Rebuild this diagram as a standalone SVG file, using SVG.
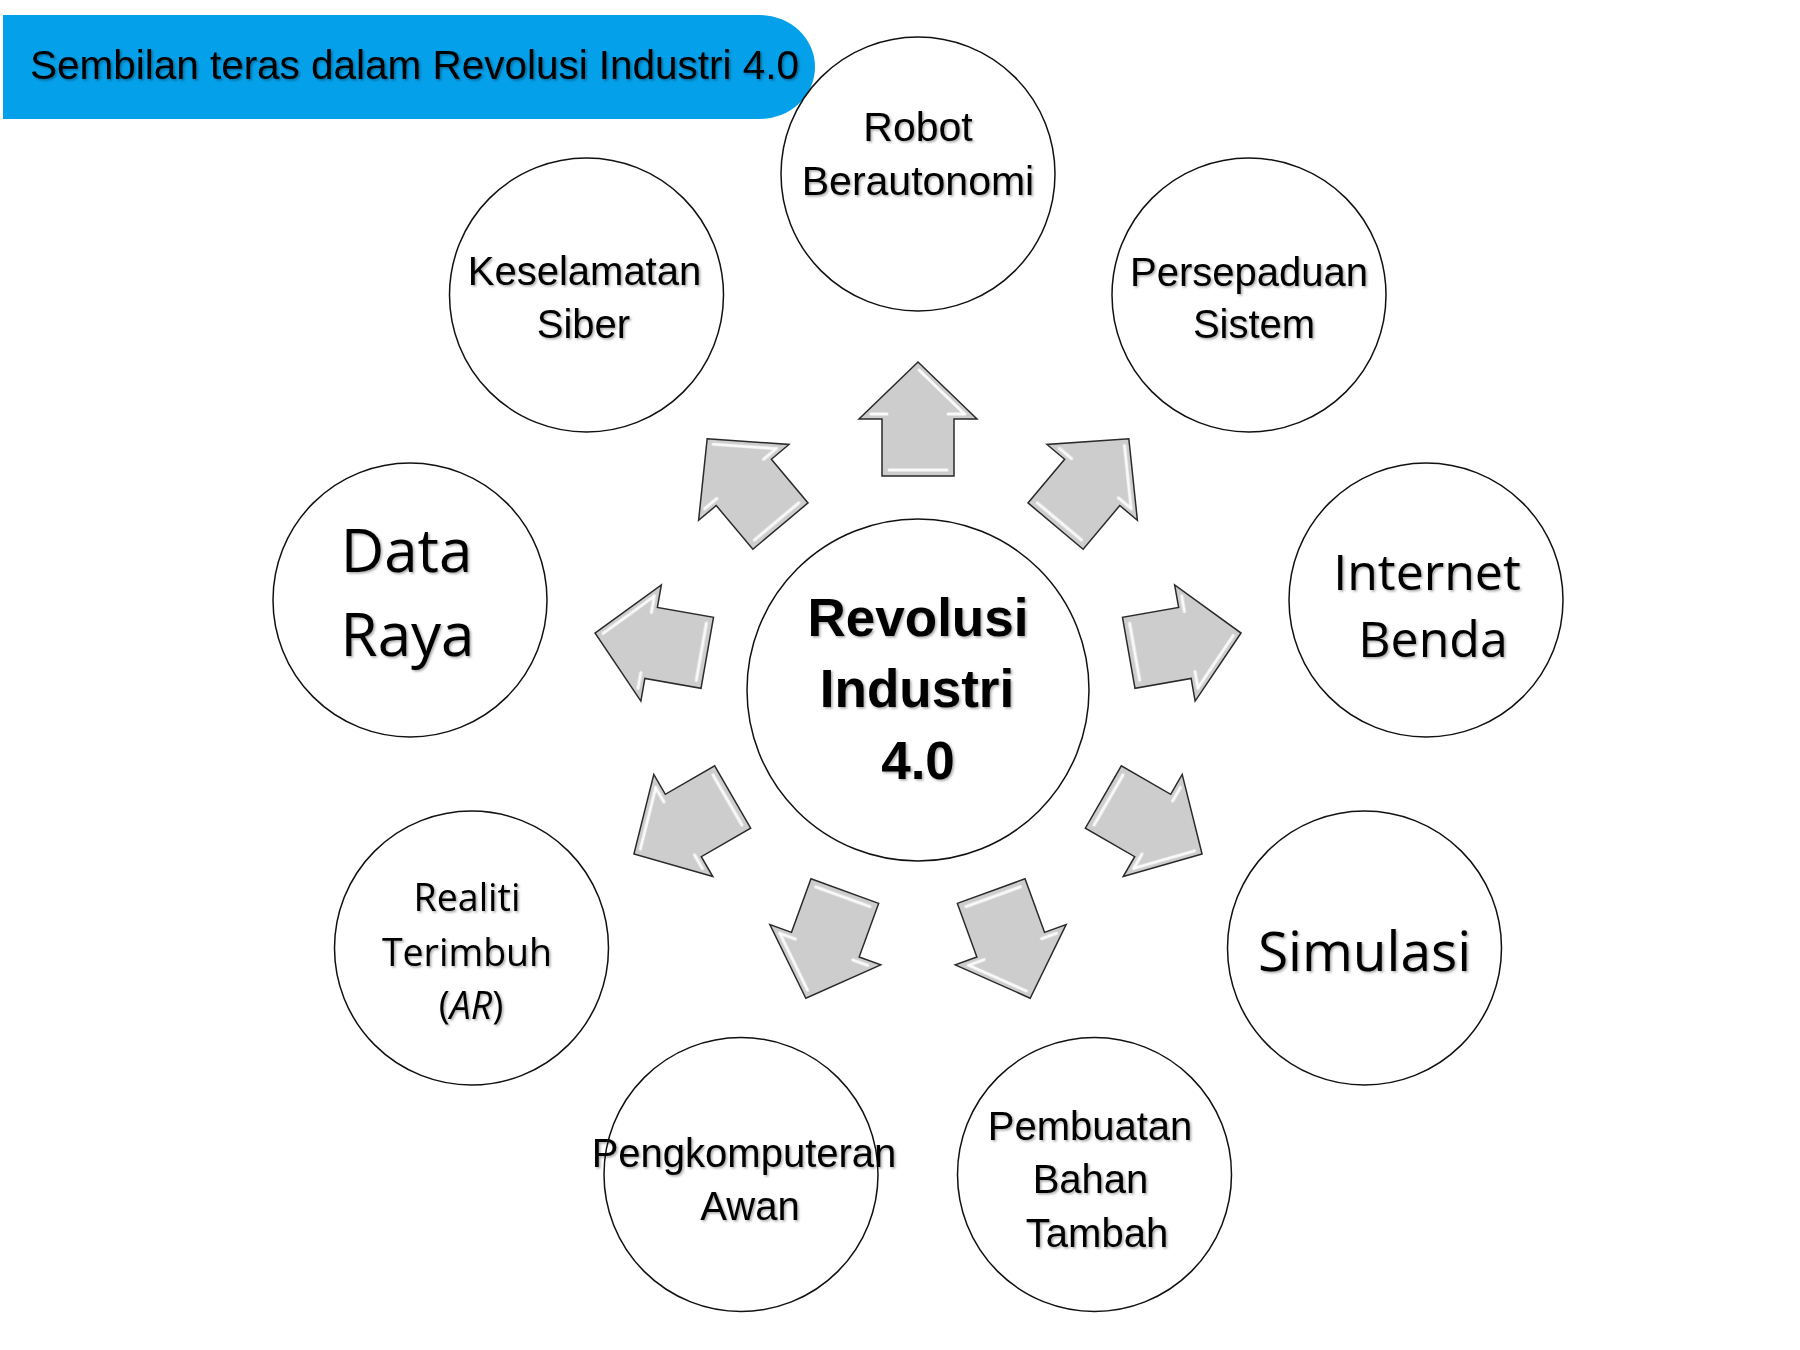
<svg xmlns="http://www.w3.org/2000/svg" xmlns:xlink="http://www.w3.org/1999/xlink" width="1800" height="1350" viewBox="0 0 1800 1350">
<style>
.node{fill:#ffffff;stroke:#111111;stroke-width:1.5}
.t{font-family:"Liberation Sans",Arial,sans-serif;font-size:40px;fill:#000;text-anchor:middle}
.w{font-family:"Open Sans","DejaVu Sans",sans-serif;fill:#000;text-anchor:middle}
.b{font-family:"Liberation Sans",Arial,sans-serif;font-size:53px;font-weight:bold;fill:#000;text-anchor:middle}
.arrow{fill:#cdcdcd;stroke:#2a2a2a;stroke-width:1.5;stroke-linejoin:miter}
.hl{fill:none;stroke:#ffffff;stroke-width:3;stroke-linecap:round;opacity:0.9}
</style>
<defs>
<filter id="sh" x="-10%" y="-10%" width="120%" height="130%">
<feDropShadow dx="1.5" dy="1.5" stdDeviation="1" flood-color="#000" flood-opacity="0.35"/>
</filter>
<filter id="soft" x="-10%" y="-10%" width="120%" height="120%">
<feGaussianBlur stdDeviation="0.6"/>
</filter>
<g id="arrow">
<path class="arrow" d="M0,-328 L59,-271 L36,-271 L36,-214 L-36,-214 L-36,-271 L-59,-271 Z"/>
<g filter="url(#soft)">
<path class="hl" d="M1,-320 L46,-276.5"/>
<path class="hl" d="M-47,-276 L-31,-276"/>
<path class="hl" d="M30,-276 L47,-276"/>
<path class="hl" d="M-29,-220 L29,-220"/>
</g>
</g>
</defs>
<rect width="1800" height="1350" fill="#ffffff"/>

<g id="title">
<path d="M3,15 L760,15 A55,52 0 0 1 760,119 L3,119 Z" fill="#04A0EA"/>
<text class="t" x="30" y="79" style="text-anchor:start" textLength="769" lengthAdjust="spacingAndGlyphs" filter="url(#sh)">Sembilan teras dalam Revolusi Industri 4.0</text>
</g>

<g id="connectors">
<use xlink:href="#arrow" href="#arrow" transform="translate(918,690) rotate(0)"/>
<use xlink:href="#arrow" href="#arrow" transform="translate(918,690) rotate(40)"/>
<use xlink:href="#arrow" href="#arrow" transform="translate(918,690) rotate(80)"/>
<use xlink:href="#arrow" href="#arrow" transform="translate(918,690) rotate(120)"/>
<use xlink:href="#arrow" href="#arrow" transform="translate(918,690) rotate(160)"/>
<use xlink:href="#arrow" href="#arrow" transform="translate(918,690) rotate(200)"/>
<use xlink:href="#arrow" href="#arrow" transform="translate(918,690) rotate(240)"/>
<use xlink:href="#arrow" href="#arrow" transform="translate(918,690) rotate(280)"/>
<use xlink:href="#arrow" href="#arrow" transform="translate(918,690) rotate(320)"/>
</g>

<g id="center">
<circle class="node" cx="918" cy="690" r="171"/>
<g filter="url(#sh)">
<text class="b" x="918" y="636">Revolusi</text>
<text class="b" x="917" y="707">Industri</text>
<text class="b" x="918" y="779">4.0</text>
</g>
</g>

<g id="robot">
<circle class="node" cx="918" cy="174" r="137"/>
<g filter="url(#sh)">
<text class="t" x="918" y="141" style="font-size:41px">Robot</text>
<text class="t" x="918" y="195" style="font-size:41px">Berautonomi</text>
</g>
</g>

<g id="persepaduan">
<circle class="node" cx="1249" cy="295" r="137"/>
<g filter="url(#sh)">
<text class="t" x="1249" y="286">Persepaduan</text>
<text class="t" x="1254" y="338">Sistem</text>
</g>
</g>

<g id="internet">
<circle class="node" cx="1426" cy="600" r="137"/>
<g filter="url(#sh)">
<text class="w" x="1427" y="590" style="font-size:50px">Internet</text>
<text class="w" x="1433" y="657" style="font-size:50px">Benda</text>
</g>
</g>

<g id="simulasi">
<circle class="node" cx="1364.5" cy="948" r="137"/>
<text class="w" x="1364.5" y="971" style="font-size:55px" filter="url(#sh)">Simulasi</text>
</g>

<g id="pembuatan">
<circle class="node" cx="1094.5" cy="1174.5" r="137"/>
<g filter="url(#sh)">
<text class="t" x="1090" y="1140">Pembuatan</text>
<text class="t" x="1090.5" y="1193">Bahan</text>
<text class="t" x="1097" y="1247">Tambah</text>
</g>
</g>

<g id="pengkomputeran">
<circle class="node" cx="741" cy="1174.5" r="137"/>
<g filter="url(#sh)">
<text class="t" x="744" y="1167">Pengkomputeran</text>
<text class="t" x="750" y="1220">Awan</text>
</g>
</g>

<g id="realiti">
<circle class="node" cx="471.5" cy="948" r="137"/>
<g filter="url(#sh)">
<text class="w" x="467" y="911" style="font-size:37.5px">Realiti</text>
<text class="w" x="467" y="966" style="font-size:37.5px">Terimbuh</text>
<text class="w" x="471" y="1019" style="font-size:37.5px">(<tspan font-style="italic">AR</tspan>)</text>
</g>
</g>

<g id="dataraya">
<circle class="node" cx="410" cy="600" r="137"/>
<g filter="url(#sh)">
<text class="w" x="406.5" y="572" style="font-size:60px">Data</text>
<text class="w" x="407.5" y="656" style="font-size:60px">Raya</text>
</g>
</g>

<g id="keselamatan">
<circle class="node" cx="586.5" cy="295" r="137"/>
<g filter="url(#sh)">
<text class="t" x="584.5" y="285">Keselamatan</text>
<text class="t" x="583.5" y="338">Siber</text>
</g>
</g>
</svg>
